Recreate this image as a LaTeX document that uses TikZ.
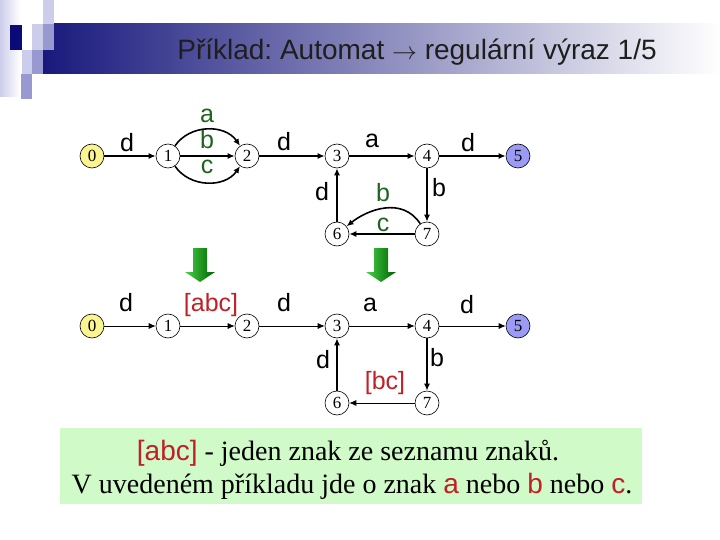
\documentclass[tikz,border=0pt]{standalone}
\usepackage{fontspec}
\setmainfont{Liberation Serif}
\setsansfont{Liberation Sans}
\usetikzlibrary{arrows.meta}
\frenchspacing
\definecolor{navyd}{RGB}{10,10,120}
\definecolor{lavA}{RGB}{204,204,235}
\definecolor{lavB}{RGB}{153,153,210}
\definecolor{bannerL}{RGB}{25,25,125}
\definecolor{yel}{RGB}{250,245,145}
\definecolor{blu}{RGB}{155,155,245}
\definecolor{grlab}{RGB}{30,100,30}
\definecolor{redlab}{RGB}{192,32,40}
\definecolor{boxg}{RGB}{208,250,200}
\definecolor{arrL}{RGB}{70,210,70}
\definecolor{arrD}{RGB}{0,95,0}
\tikzset{
  st/.style={circle,draw,line width=0.6pt,minimum size=24pt,inner sep=0pt,fill=white,font=\fontsize{17}{17}\selectfont},
  ethick/.style={line width=1.6pt,-{Latex[length=7pt,width=6pt]}},
  ethin/.style={line width=0.8pt,-{Latex[length=7pt,width=6pt]}},
  lab/.style={inner sep=0pt,font=\sffamily\fontsize{25}{25}\selectfont},
  glab/.style={lab,text=grlab},
  rlab/.style={lab,text=redlab},
}
\newcommand{\greenarrow}[1]{%
  \shade[left color=arrL,right color=arrD] (#1-7,248) -- (#1+7,248) -- (#1+7,272) -- (#1+15,272) -- (#1,282) -- (#1-15,272) -- (#1-7,272) -- cycle;}
\begin{document}
\begin{tikzpicture}[x=1pt,y=-1pt]
\useasboundingbox (0,0) rectangle (720,540);
\fill[white] (0,0) rectangle (720,540);
% header decoration
\shade[left color=lavA,right color=white] (0,0) rectangle (20,97);
\shade[left color=bannerL,right color=white] (43,24) rectangle (720,74);
\fill[navyd] (10,25) rectangle (22,50);
\fill[lavA] (32,24) rectangle (43,50);
\fill[lavB] (43,24) rectangle (54,50);
\fill[lavA] (43,0) rectangle (54,24);
\fill[lavA] (22,50) rectangle (32,74);
\fill[lavB] (32,50) rectangle (43,74);
\fill[lavB] (21,74) rectangle (32,99);
\node[font=\sffamily\fontsize{28}{28}\selectfont,text={rgb,255:red,30;green,30;blue,30}] (title) at (417,52) {Příklad: Automat $\rightarrow$ regulární výraz 1/5};
% top automaton
\node[st,fill=yel] (a0) at (92,156) {0};
\node[st] (a1) at (168,156) {1};
\node[st] (a2) at (247,156) {2};
\node[st] (a3) at (337,156) {3};
\node[st] (a4) at (427,156) {4};
\node[st,fill=blu] (a5) at (518,156) {5};
\node[st] (a6) at (337,234) {6};
\node[st] (a7) at (427,234) {7};
\draw[ethick] (a0) -- (a1);
\draw[ethick] (a1) -- (a2);
\draw[ethick] (a1) .. controls +(22,-32) and +(-22,-32) .. (a2);
\draw[ethick] (a1) .. controls +(22,32) and +(-22,32) .. (a2);
\draw[ethick] (a2) -- (a3);
\draw[ethick] (a3) -- (a4);
\draw[ethick] (a4) -- (a5);
\draw[ethick] (a4) -- (a7);
\draw[ethick] (a6) -- (a3);
\draw[ethick] (a7) -- (a6);
\draw[ethick] (a7) .. controls +(-25,-38) and +(30,-24) .. (a6);
\node[lab] (la01) at (127,143) {d};
\node[glab] (la12a) at (207,116) {a};
\node[glab] (la12b) at (207,140) {b};
\node[glab] (la12c) at (207,167) {c};
\node[lab] (la23) at (284,142) {d};
\node[lab] (la34) at (372,141) {a};
\node[lab] (la45) at (468,143) {d};
\node[lab] (la63) at (322,192) {d};
\node[lab] (la47) at (439,188) {b};
\node[glab] (la76b) at (383,193) {b};
\node[glab] (la76c) at (383,225) {c};
% green arrows
\greenarrow{200}
\greenarrow{381}
% bottom automaton
\node[st,fill=yel] (b0) at (92,326) {0};
\node[st] (b1) at (168,326) {1};
\node[st] (b2) at (247,326) {2};
\node[st] (b3) at (337,326) {3};
\node[st] (b4) at (427,326) {4};
\node[st,fill=blu] (b5) at (518,326) {5};
\node[st] (b6) at (337,403) {6};
\node[st] (b7) at (427,403) {7};
\draw[ethin] (b0) -- (b1);
\draw[ethin] (b1) -- (b2);
\draw[ethin] (b2) -- (b3);
\draw[ethin] (b3) -- (b4);
\draw[ethin] (b4) -- (b5);
\draw[ethick] (b4) -- (b7);
\draw[ethick] (b6) -- (b3);
\draw[ethin] (b7) -- (b6);
\node[lab] (lb01) at (126,303) {d};
\node[rlab] (lb12) at (211,305) {[abc]};
\node[lab] (lb23) at (284,303) {d};
\node[lab] (lb34) at (370,305) {a};
\node[lab] (lb45) at (467,305) {d};
\node[lab] (lb63) at (323,360) {d};
\node[lab] (lb47) at (437,358) {b};
\node[rlab] (lb76) at (385,383) {[bc]};
% explanation box
\fill[boxg] (60,428) rectangle (642,504);
\node[inner sep=0pt,font=\fontsize{28}{28}\selectfont] (t1) at (348,453) {{\sffamily\color{redlab}[abc]} - jeden znak ze seznamu znaků.};
\node[inner sep=0pt,font=\fontsize{28}{28}\selectfont] (t2) at (352,486) {V uvedeném příkladu jde o znak {\sffamily\color{redlab}a} nebo {\sffamily\color{redlab}b} nebo {\sffamily\color{redlab}c}.};
\end{tikzpicture}
\end{document}
